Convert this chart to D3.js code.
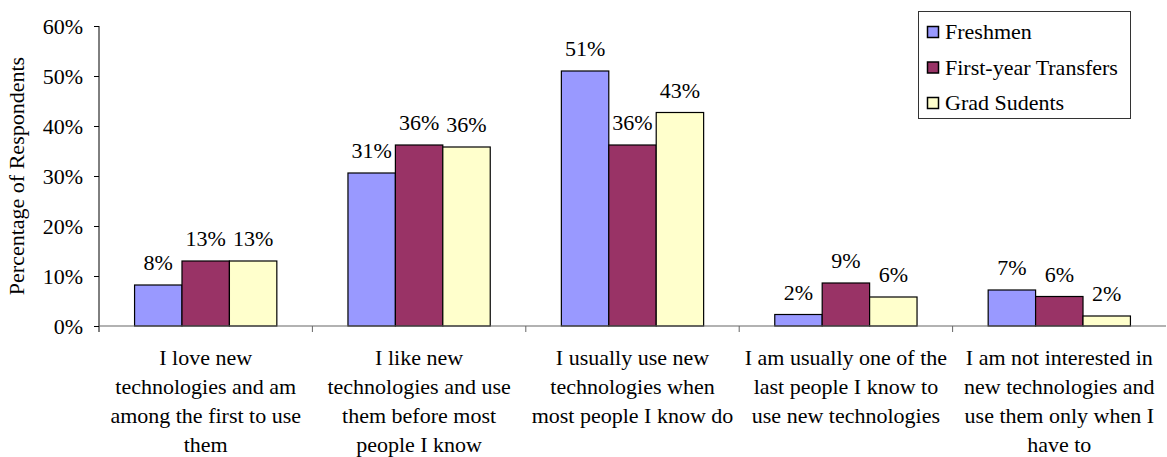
<!DOCTYPE html>
<html>
<head>
<meta charset="utf-8">
<script src="https://cdn.jsdelivr.net/npm/d3@7"></script>
<style>
  body { margin: 0; background: #fff; }
</style>
</head>
<body>
<div id="chart"></div>
<script>
// Chart data
const categories = [
    ["I love new", "technologies and am", "among the first to use", "them"],
    ["I like new", "technologies and use", "them before most", "people I know"],
    ["I usually use new", "technologies when", "most people I know do"],
    ["I am usually one of the", "last people I know to", "use new technologies"],
    ["I am not interested in", "new technologies and", "use them only when I", "have to"]
];
const seriesNames = ["Freshmen", "First-year Transfers", "Grad Sudents"];
const freshmen = [8.2, 30.6, 51.0, 2.3, 7.2];
const transfers = [13.0, 36.2, 36.2, 8.6, 5.9];
const gradStudents = [13.0, 35.8, 42.7, 5.8, 2.0];
const yTicks = [0, 10, 20, 30, 40, 50, 60];
const colors = ["#9999FF", "#993366", "#FFFFCC"];

const width = 1167, height = 457;
const plotLeft = 99, plotRight = 1166, plotTop = 26, plotBottom = 326;
const fontSize = 22;
const serif = '"Liberation Serif"';

const svg = d3.select("#chart").append("svg")
    .attr("width", width)
    .attr("height", height)
    .style("display", "block")
    .style("font-family", serif);

const x0 = d3.scaleBand()
    .domain(d3.range(categories.length))
    .range([plotLeft, plotRight])
    .padding(0);

const x1 = d3.scaleBand()
    .domain(d3.range(seriesNames.length))
    .range([0, x0.bandwidth()])
    .paddingInner(0)
    .paddingOuter(0.75);

const y = d3.scaleLinear()
    .domain([0, 60])
    .range([plotBottom, plotTop]);

const series = [freshmen, transfers, gradStudents];

// Y axis
const yAxis = svg.append("g")
    .attr("transform", `translate(${plotLeft},0)`)
    .call(d3.axisLeft(y).tickValues(yTicks).tickSize(5).tickFormat(d => d + "%"));
yAxis.attr("font-family", null).attr("font-size", null);
yAxis.select(".domain").remove();
yAxis.selectAll(".tick line").attr("stroke", "#000");
yAxis.selectAll(".tick text")
    .attr("x", -16)
    .style("font-family", serif)
    .style("font-size", fontSize + "px")
    .attr("fill", "#000");
svg.append("line")
    .attr("x1", plotLeft).attr("x2", plotLeft)
    .attr("y1", plotTop).attr("y2", plotBottom + 6)
    .attr("stroke", "#000");

// Bars
const groups = svg.append("g")
    .selectAll("g")
    .data(categories.map((c, i) => i))
    .join("g")
    .attr("transform", i => `translate(${x0(i)},0)`);

groups.selectAll("rect")
    .data(i => series.map((s, j) => ({ s: j, v: s[i] })))
    .join("rect")
    .attr("x", d => x1(d.s))
    .attr("y", d => y(d.v))
    .attr("width", x1.bandwidth())
    .attr("height", d => y(0) - y(d.v))
    .attr("fill", d => colors[d.s])
    .attr("stroke", "#000")
    .attr("stroke-width", 1.2);

groups.selectAll("text.val")
    .data(i => series.map((s, j) => ({ s: j, v: s[i] })))
    .join("text")
    .attr("class", "val")
    .attr("x", d => x1(d.s) + x1.bandwidth() / 2)
    .attr("y", d => y(d.v) - 15)
    .attr("text-anchor", "middle")
    .style("font-family", serif)
    .style("font-size", fontSize + "px")
    .attr("fill", "#000")
    .text(d => Math.round(d.v) + "%");

// X axis line and separators
svg.append("line")
    .attr("x1", plotLeft).attr("x2", plotRight)
    .attr("y1", plotBottom).attr("y2", plotBottom)
    .attr("stroke", "#666").attr("stroke-width", 1.2);

svg.append("g")
    .selectAll("line")
    .data(d3.range(1, categories.length))
    .join("line")
    .attr("x1", i => x0(i)).attr("x2", i => x0(i))
    .attr("y1", plotBottom).attr("y2", plotBottom + 6)
    .attr("stroke", "#666");

// Category labels
svg.append("g")
    .selectAll("text")
    .data(categories)
    .join("text")
    .attr("text-anchor", "middle")
    .style("font-family", serif)
    .style("font-size", fontSize + "px")
    .attr("fill", "#000")
    .each(function(lines, i) {
        const t = d3.select(this);
        lines.forEach((ln, k) => {
            t.append("tspan")
                .attr("x", x0(i) + x0.bandwidth() / 2)
                .attr("y", 365 + k * 29)
                .text(ln);
        });
    });

// Y axis title
svg.append("text")
    .attr("transform", `translate(24,${(plotTop + plotBottom) / 2}) rotate(-90)`)
    .attr("text-anchor", "middle")
    .style("font-family", serif)
    .style("font-size", fontSize + "px")
    .attr("fill", "#000")
    .text("Percentage of Respondents");

// Legend
const legend = svg.append("g");
legend.append("rect")
    .attr("x", 918.5).attr("y", 11.5)
    .attr("width", 212).attr("height", 107)
    .attr("fill", "#fff")
    .attr("stroke", "#333");

const item = legend.selectAll("g.item")
    .data(seriesNames)
    .join("g")
    .attr("class", "item")
    .attr("transform", (d, i) => `translate(927,${32 + i * 35.5})`);

item.append("rect")
    .attr("x", 0.5).attr("y", -5.5)
    .attr("width", 11).attr("height", 11)
    .attr("fill", (d, i) => colors[i])
    .attr("stroke", "#000")
    .attr("stroke-width", 1.5);

item.append("text")
    .attr("x", 18)
    .attr("y", 7)
    .style("font-family", serif)
    .style("font-size", fontSize + "px")
    .attr("fill", "#000")
    .text(d => d);
</script>
</body>
</html>
